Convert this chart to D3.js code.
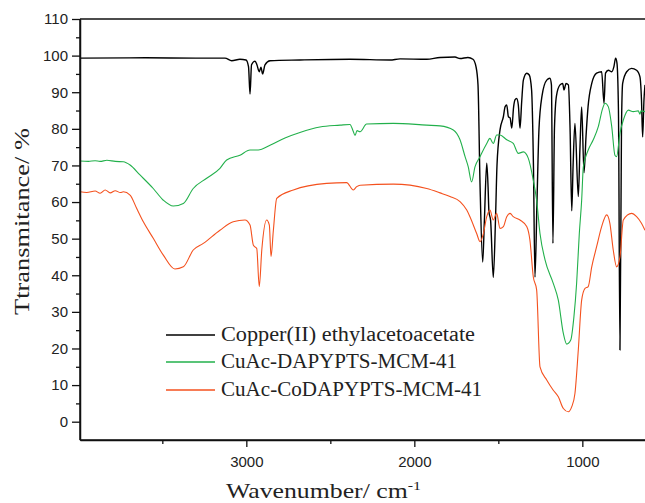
<!DOCTYPE html>
<html><head><meta charset="utf-8">
<script src="https://cdn.jsdelivr.net/npm/d3@7"></script>
<style>body{margin:0;background:#fff}svg{display:block}</style>
</head><body>
<svg id="c" width="645" height="503"></svg>
<script>
// ---- data (wavenumber cm-1, transmittance %) ----
const seriesNames = ["Copper(II) ethylacetoacetate", "CuAc-DAPYPTS-MCM-41", "CuAc-CoDAPYPTS-MCM-41"];
const seriesColors = ["#000000", "#22b04b", "#f4511e"];
const yTicks = [0,10,20,30,40,50,60,70,80,90,100,110];
const xTicks = [3000,2000,1000];

const blackWn = [3990,3600,3300,3127,3087,3038,3002,2987,2978,2969,2948,2937,2923,2913,2903,2889,2859,2681,2383,2145,2085,1926,1847,1758,1728,1681,1651,1633,1621,1609,1593,1583,1569,1561,1556,1546,1530,1517,1508,1490,1470,1460,1450,1440,1430,1420,1409,1401,1391,1381,1371,1361,1351,1331,1316,1302,1291,1282,1270,1258,1240,1212,1193,1184,1175,1166,1154,1133,1117,1109,1097,1083,1073,1063,1055,1044,1024,1014,1004,990,978,966,944,915,885,871,862,845,825,812,802,794,785,776,767,760,736,707,677,657,648,641,633,627];
const blackT  = [99.3,99.4,99.3,99.3,98.6,99.0,98.8,97,89.5,97.5,98.5,97.5,95.6,96.8,95.0,97.5,98.6,98.8,99.0,98.8,99.1,99.0,99.5,99.6,99.2,99.5,99.0,97,92,65,43.6,55,70.6,64,57.4,55,39.4,55,70,79.7,83.3,86,86.5,83.3,83,80.2,86,87.9,88.3,86.5,80.2,87.4,93.3,95.2,94.7,90.6,70,39.5,60,80,89,93.3,93.8,92,48.7,80,89,92,92.4,90.6,92.4,92,80,57.6,70,81.5,61.5,75,86,68,78,86,92.4,95.2,95.6,87,95.2,96,95.6,97,99.3,98,85,19.6,80,92.4,95.6,96.5,96,94.2,88,77.8,88,92];

const greenWn = [3990,3940,3900,3871,3830,3780,3732,3692,3633,3554,3494,3435,3375,3316,3236,3157,3117,3038,2978,2929,2859,2770,2681,2562,2442,2383,2365,2353,2341,2323,2284,2125,1926,1847,1768,1728,1698,1679,1659,1639,1609,1569,1550,1530,1510,1490,1450,1411,1381,1351,1322,1292,1272,1252,1222,1173,1143,1113,1093,1069,1050,1034,1018,1004,994,965,935,905,879,865,845,825,806,796,776,756,726,697,667,657,651,627];
const greenT  = [71.2,71.1,71.3,71.1,71.4,71.1,71.0,70.1,67.4,63.7,60.5,58.9,59.6,63.7,66.5,69.2,71.5,72.8,74.2,74.2,75.5,77.5,79,80.5,81,81.2,79.5,78.2,79.5,79.2,81.3,81.5,81,80.8,79.7,77,72.4,69.6,65.5,69.6,72.4,76,77.4,76,78.3,78.3,77,76,73.3,73.7,72,66,60.5,51.4,44.2,37.8,33.2,24.1,21.2,22.3,28.7,37.8,51.4,60.5,69.6,74.2,77,80.6,85.6,87,86,80.6,72.8,72.4,78.8,82.4,85.1,84.7,84.9,84,84.9,84.7];

const redWn = [3990,3950,3900,3870,3840,3810,3780,3750,3732,3692,3653,3613,3554,3494,3425,3375,3316,3256,3157,3078,3008,2978,2958,2938,2923,2908,2879,2863,2853,2839,2819,2720,2522,2403,2363,2343,2323,2125,1926,1847,1788,1728,1688,1669,1629,1609,1589,1569,1550,1530,1510,1490,1470,1450,1430,1411,1371,1331,1312,1292,1272,1252,1212,1173,1143,1113,1083,1063,1044,1024,1004,984,965,944,915,885,855,836,816,796,776,756,707,677,648,627];
const redT  = [62.8,62.6,63.0,62.4,63.3,62.5,63.1,62.6,62.8,61.9,58.3,54.6,50.1,45.5,41.7,42.3,46.9,48.7,52.3,54.6,55.1,53.7,48.2,47.3,36.9,46.9,55.1,53.7,45.1,52.3,61,63.3,65.1,65.3,63.3,64.2,64.6,64.9,63.7,62.5,61.5,60.1,57.8,56,51.4,49.2,51.4,56,57.8,55.1,56.9,52.8,53.3,56,56.9,56,55.1,53.3,49.6,39.6,36,15,11.4,8.6,6.8,3.6,2.7,4.1,7.7,19.6,33.2,36.4,36.9,42.3,47.8,53.3,56.5,54.2,46.9,42.3,45,55.1,56.9,56,54.2,52.3];

(function () {
const series = [
  {wn: blackWn, t: blackT, w: 1.4},
  {wn: greenWn, t: greenT, w: 1.1},
  {wn: redWn, t: redT, w: 1.1}
];

// ---- layout ----
const mL = 80, mR = 645, mT = 19, mB = 440;
const svg = d3.select("#c");
const x = d3.scaleLinear().domain([3990, 627]).range([mL, mR]);
const y = d3.scaleLinear().domain([-5, 110]).range([mB, mT]);

const plot = svg.append("g");
plot.append("clipPath").attr("id","clip").append("rect")
  .attr("x", mL).attr("y", mT).attr("width", mR-mL).attr("height", mB-mT);

const line = d3.line().curve(d3.curveMonotoneX);
series.forEach((s, i) => {
  const pts = s.wn.map((w, k) => [x(w), y(s.t[k])]);
  plot.append("path").attr("d", line(pts)).attr("fill","none")
    .attr("stroke", seriesColors[i]).attr("stroke-width", s.w)
    .attr("stroke-linejoin","round").attr("clip-path","url(#clip)");
});

// ---- axes ----
const axisFont = "Liberation Sans, Arial, sans-serif";
const yAxis = svg.append("g").attr("transform", `translate(${mL},0)`)
  .call(d3.axisLeft(y).tickValues(yTicks).tickSize(8).tickPadding(4).tickSizeOuter(0));
const yMinor = svg.append("g").attr("transform", `translate(${mL},0)`)
  .call(d3.axisLeft(y).tickValues(d3.range(5,110,10)).tickSize(4).tickFormat(""));
yMinor.select(".domain").remove();

const xAxis = svg.append("g").attr("transform", `translate(0,${mB})`)
  .call(d3.axisBottom(x).tickValues(xTicks).tickSize(7).tickPadding(9).tickSizeOuter(0).tickFormat(d3.format("d")));
const xMinor = svg.append("g").attr("transform", `translate(0,${mB})`)
  .call(d3.axisBottom(x).tickValues([3500,2500,1500]).tickSize(4).tickFormat(""));
xMinor.select(".domain").remove();

[yAxis, yMinor, xAxis, xMinor].forEach(g => {
  g.selectAll("line").attr("stroke","#111").attr("stroke-width",1.3);
  g.selectAll(".domain").attr("stroke","#111").attr("stroke-width",1.5);
  g.selectAll("text").attr("font-family", axisFont).attr("font-size", 15).attr("fill","#222");
});
svg.append("line").attr("x1", mL).attr("x2", mL).attr("y1", mT).attr("y2", mB)
  .attr("stroke","#111").attr("stroke-width",1.5);
svg.append("line").attr("x1", mL).attr("x2", mR).attr("y1", mB).attr("y2", mB)
  .attr("stroke","#111").attr("stroke-width",1.5);
svg.append("line").attr("x1", mL).attr("x2", mR).attr("y1", mT).attr("y2", mT)
  .attr("stroke","#111").attr("stroke-width",1.5);

// ---- titles ----
const serif = "Liberation Serif, 'Times New Roman', serif";
const xt = svg.append("text").attr("x", 226).attr("y", 498)
  .attr("font-family", serif).attr("font-size", 21).attr("fill","#222")
  .attr("textLength", 195).attr("lengthAdjust", "spacingAndGlyphs");
xt.append("tspan").text("Wavenumber/ cm");
xt.append("tspan").attr("font-size", 13).attr("dy", -8).text("-1");

svg.append("text").attr("transform", "translate(29,315) rotate(-90)")
  .attr("font-family", serif).attr("font-size", 21).attr("fill","#222")
  .attr("textLength", 187).attr("lengthAdjust", "spacingAndGlyphs")
  .text("Ttransmitance/ %");

// ---- legend ----
const legY = [335, 362, 390];
const legW = [254, 236, 261];
seriesNames.forEach((n, i) => {
  svg.append("line").attr("x1", 166).attr("x2", 215).attr("y1", legY[i]).attr("y2", legY[i])
    .attr("stroke", seriesColors[i]).attr("stroke-width", 1.3);
  svg.append("text").attr("x", 221).attr("y", legY[i] + 6)
    .attr("font-family", serif).attr("font-size", 20).attr("fill","#222")
    .attr("textLength", legW[i]).attr("lengthAdjust", "spacingAndGlyphs").text(n);
});
})();
</script>
</body></html>
